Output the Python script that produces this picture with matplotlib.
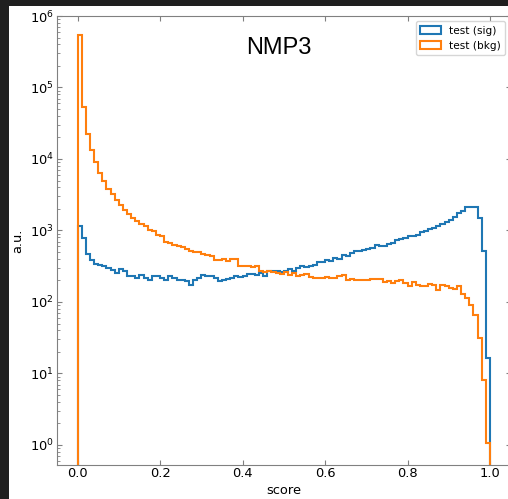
import numpy as np
import matplotlib
matplotlib.use("Agg")
import matplotlib.pyplot as plt
from matplotlib.patches import Rectangle

# ---- data ----
bin_edges = np.linspace(0.0, 1.0, 101)

sig_counts = [
    1160, 785, 470, 390, 343, 331, 314, 298, 282, 254,
    288, 267, 233, 233, 216, 240, 220, 205, 228, 228,
    216, 205, 228, 216, 205, 205, 194, 174, 205, 216,
    240, 228, 228, 216, 194, 205, 210, 220, 233, 225,
    233, 248, 248, 240, 254, 233, 272, 272, 267, 262,
    270, 288, 275, 300, 315, 308, 321, 331, 357, 357,
    381, 369, 412, 400, 458, 445, 484, 510, 510, 537,
    550, 569, 620, 600, 610, 640, 668, 727, 760, 785,
    826, 826, 872, 940, 971, 1047, 1084, 1141, 1250, 1320,
    1420, 1520, 1740, 1900, 2100, 2150, 2100, 1480, 510, 16.4,
]

bkg_counts = [
    540000, 53700, 22700, 13200, 9000, 6400, 5000, 3800, 3270, 2630,
    2290, 1960, 1720, 1500, 1340, 1240, 1170, 1030, 970, 870,
    830, 700, 670, 630, 610, 595, 556, 521, 494, 505,
    473, 454, 434, 390, 381, 400, 380, 403, 403, 321,
    314, 314, 304, 321, 267, 263, 267, 259, 254, 248,
    259, 240, 254, 233, 240, 245, 225, 216, 216, 220,
    223, 218, 220, 232, 240, 205, 210, 205, 200, 203,
    205, 213, 208, 210, 190, 194, 184, 194, 200, 186,
    165, 190, 174, 165, 165, 180, 174, 148, 174, 168,
    158, 150, 165, 130, 113, 91, 66, 31, 8, 1.05,
]

series_labels = ["test (sig)", "test (bkg)"]
title_text = "NMP3"
x_label = "score"
y_label = "a.u."

# ---- figure ----
W, H = 508, 499
fig = plt.figure(figsize=(W / 100, H / 100), dpi=100, facecolor="#1f1f1f")
fig.add_artist(Rectangle((9 / W, 0), 1, (H - 6) / H, transform=fig.transFigure,
                         facecolor="white", edgecolor="none", zorder=-5))

ax_left, ax_right, ax_top, ax_bottom = 57, 510.6, 16, 465
ax = fig.add_axes([ax_left / W, (H - ax_bottom) / H,
                   (ax_right - ax_left) / W, (ax_bottom - ax_top) / H])

centers = 0.5 * (bin_edges[:-1] + bin_edges[1:])
ax.hist(centers, bins=bin_edges, weights=sig_counts, histtype="step",
        color="#1f77b4", lw=1.5, label=series_labels[0])
ax.hist(centers, bins=bin_edges, weights=bkg_counts, histtype="step",
        color="#ff7f0e", lw=1.5, label=series_labels[1])

ax.set_yscale("log")
ax.set_xlim(-0.05, 1.05)
ax.set_ylim(0.525, 1e6)

ax.tick_params(which="both", direction="in", top=True, right=True,
               colors="#808080", labelcolor="black", labelsize=9.4)
ax.tick_params(axis="x", which="both", pad=1.5)
ax.tick_params(axis="y", which="both", pad=2.5)
for s in ax.spines.values():
    s.set_color("#808080")

ax.set_xlabel(x_label, fontsize=9.4, labelpad=2.5)
ax.set_ylabel(y_label, fontsize=9.4)

ax.text(0.49, 0.929, title_text, transform=ax.transAxes, ha="center",
        va="center", fontsize=17, family="Liberation Sans")
ax.legend(loc="upper right", fontsize=7.6)

fig.savefig("out.png", dpi=100, facecolor=fig.get_facecolor())
